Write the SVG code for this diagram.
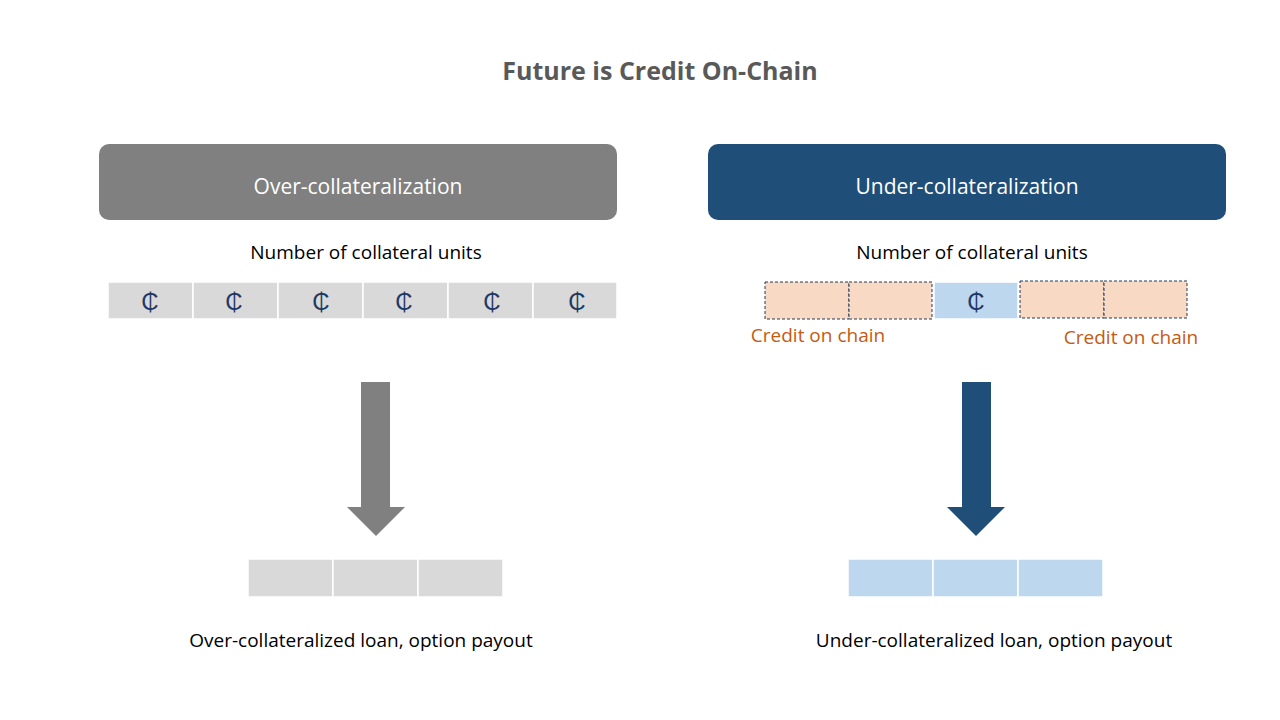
<svg xmlns="http://www.w3.org/2000/svg" width="1280" height="720" viewBox="0 0 1280 720">
<style>
text{font-family:"Open Sans","Liberation Sans",sans-serif}
.g{fill:#d9d9d9;stroke:#fff;stroke-width:1.5}
.b{fill:#bdd7ee;stroke:#fff;stroke-width:1.5}
.p{fill:#f8d9c4;stroke:#1f3b5c;stroke-width:1;stroke-dasharray:3 2}
.c{font-size:24px;fill:#1f3864;text-anchor:middle}
.l{font-size:19px;fill:#000;text-anchor:middle}
.o{font-size:19px;fill:#c55a11;text-anchor:middle}
.h{font-size:21px;fill:#fff;text-anchor:middle}
</style>
<rect width="1280" height="720" fill="#fff"/>
<text x="660" y="80" text-anchor="middle" font-size="25" font-weight="bold" fill="#595959">Future is Credit On-Chain</text>
<g id="over-header"><rect x="99" y="144" width="518" height="76" rx="10" fill="#808080"/><text class="h" x="358" y="194">Over-collateralization</text></g>
<g id="under-header"><rect x="708" y="144" width="518" height="76" rx="10" fill="#1f4e79"/><text class="h" x="967" y="194">Under-collateralization</text></g>
<text class="l" x="366" y="259">Number of collateral units</text>
<text class="l" x="972" y="259">Number of collateral units</text>
<g id="left-units">
<rect class="g" x="108" y="282" width="85" height="37"/><rect class="g" x="193" y="282" width="85" height="37"/><rect class="g" x="278" y="282" width="85" height="37"/><rect class="g" x="363" y="282" width="85" height="37"/><rect class="g" x="448" y="282" width="85" height="37"/><rect class="g" x="533" y="282" width="84" height="37"/>
<text class="c" x="150" y="310">₵</text><text class="c" x="234" y="310">₵</text><text class="c" x="321" y="310">₵</text><text class="c" x="404" y="310">₵</text><text class="c" x="492" y="310">₵</text><text class="c" x="577" y="310">₵</text>
</g>
<g id="right-units">
<rect class="p" x="765" y="282" width="84" height="37"/><rect class="p" x="849" y="282" width="83" height="37"/>
<rect class="b" x="934" y="282" width="84" height="37"/><text class="c" x="976" y="310">₵</text>
<rect class="p" x="1020" y="281" width="84" height="37"/><rect class="p" x="1104" y="281" width="83" height="37"/>
<text class="o" x="818" y="342">Credit on chain</text><text class="o" x="1131" y="344">Credit on chain</text>
</g>
<g id="connectors">
<polygon points="361,382 390,382 390,507 405,507 376,536 347,507 361,507" fill="#808080"/>
<polygon points="962,382 991,382 991,507 1005,507 976,536 947,507 962,507" fill="#1f4e79"/>
</g>
<g id="left-result"><rect class="g" x="248" y="559" width="85" height="38"/><rect class="g" x="333" y="559" width="85" height="38"/><rect class="g" x="418" y="559" width="85" height="38"/></g>
<g id="right-result"><rect class="b" x="848" y="559" width="85" height="38"/><rect class="b" x="933" y="559" width="85" height="38"/><rect class="b" x="1018" y="559" width="85" height="38"/></g>
<text class="l" x="361" y="647">Over-collateralized loan, option payout</text>
<text class="l" x="994" y="647">Under-collateralized loan, option payout</text>
</svg>
